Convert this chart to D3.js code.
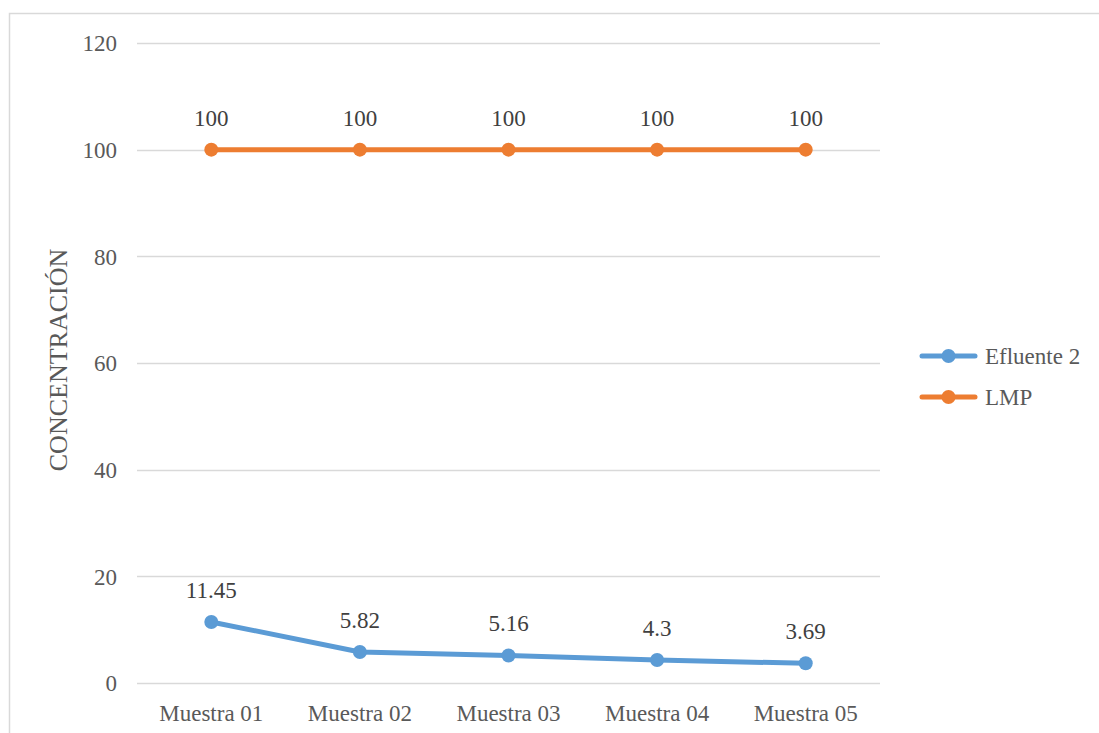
<!DOCTYPE html>
<html>
<head>
<meta charset="utf-8">
<script src="https://cdn.jsdelivr.net/npm/d3@7"></script>
<style>
  html, body { margin: 0; padding: 0; background: #fff; }
  svg { display: block; }
</style>
</head>
<body>
<svg id="chart" width="1099" height="733"></svg>
<script>
// Sample categories and measured concentrations
const categories = ["Muestra 01", "Muestra 02", "Muestra 03", "Muestra 04", "Muestra 05"];
const efluente2 = [11.45, 5.82, 5.16, 4.3, 3.69];
const lmp = [100, 100, 100, 100, 100];
const yTicks = [0, 20, 40, 60, 80, 100, 120];

const series = [
  { name: "Efluente 2", values: efluente2, color: "#5B9BD5" },
  { name: "LMP", values: lmp, color: "#ED7D31" }
];

const FONT = '"Liberation Serif", "Times New Roman", serif';
const svg = d3.select("#chart");
const W = 1099, H = 733;

// Chart frame
svg.append("rect")
  .attr("x", 9.5).attr("y", 13.5)
  .attr("width", W + 10).attr("height", H + 10)
  .attr("fill", "#fff").attr("stroke", "#d9d9d9").attr("stroke-width", 1.5);

const plot = { left: 137, right: 880, top: 43, bottom: 683 };

const x = d3.scaleBand().domain(categories).range([plot.left, plot.right]);
const y = d3.scaleLinear().domain([0, 120]).range([plot.bottom, plot.top]);
const cx = c => x(c) + x.bandwidth() / 2;

// Horizontal gridlines
svg.append("g").selectAll("line").data(yTicks).join("line")
  .attr("x1", plot.left).attr("x2", plot.right)
  .attr("y1", d => Math.round(y(d)) + 0.5).attr("y2", d => Math.round(y(d)) + 0.5)
  .attr("stroke", "#d9d9d9").attr("stroke-width", 1.3);

// Y axis tick labels
const yAxis = d3.axisLeft(y).tickValues(yTicks).tickSize(0).tickPadding(0);
const gy = svg.append("g").attr("transform", `translate(${plot.left - 20},0)`).call(yAxis);
gy.select(".domain").remove();
gy.selectAll("text")
  .attr("dy", "0.34em")
  .style("font-family", FONT).style("font-size", "23px").style("fill", "#595959");

// X axis category labels
const xAxis = d3.axisBottom(x).tickSize(0).tickPadding(0);
const gx = svg.append("g").attr("transform", `translate(0,${plot.bottom})`).call(xAxis);
gx.select(".domain").remove();
gx.selectAll("text")
  .attr("y", 38).attr("dy", 0)
  .style("font-family", FONT).style("font-size", "23px").style("fill", "#595959");

// Y axis title
svg.append("text")
  .attr("transform", `translate(67,360) rotate(-90)`)
  .attr("text-anchor", "middle")
  .style("font-family", FONT).style("font-size", "26px").style("fill", "#595959")
  .text("CONCENTRACIÓN");

// Lines, markers and value labels
const line = d3.line().x((d, i) => cx(categories[i])).y(d => y(d));

series.forEach(s => {
  const g = svg.append("g");
  g.append("path")
    .attr("d", line(s.values))
    .attr("fill", "none").attr("stroke", s.color)
    .attr("stroke-width", 5).attr("stroke-linejoin", "round").attr("stroke-linecap", "round");
  g.selectAll("circle").data(s.values).join("circle")
    .attr("cx", (d, i) => cx(categories[i])).attr("cy", d => y(d))
    .attr("r", 7).attr("fill", s.color);
  g.selectAll("text").data(s.values).join("text")
    .attr("x", (d, i) => cx(categories[i])).attr("y", d => y(d) - 24)
    .attr("text-anchor", "middle")
    .style("font-family", FONT).style("font-size", "23px").style("fill", "#404040")
    .text(d => d);
});

// Legend
const legend = svg.append("g");
series.forEach((s, i) => {
  const ly = 356 + i * 41;
  legend.append("line")
    .attr("x1", 922).attr("x2", 975).attr("y1", ly).attr("y2", ly)
    .attr("stroke", s.color).attr("stroke-width", 5).attr("stroke-linecap", "round");
  legend.append("circle").attr("cx", 948.5).attr("cy", ly).attr("r", 7).attr("fill", s.color);
  legend.append("text")
    .attr("x", 985).attr("y", ly + 8)
    .style("font-family", FONT).style("font-size", "23px").style("fill", "#595959")
    .text(s.name);
});
</script>
</body>
</html>
